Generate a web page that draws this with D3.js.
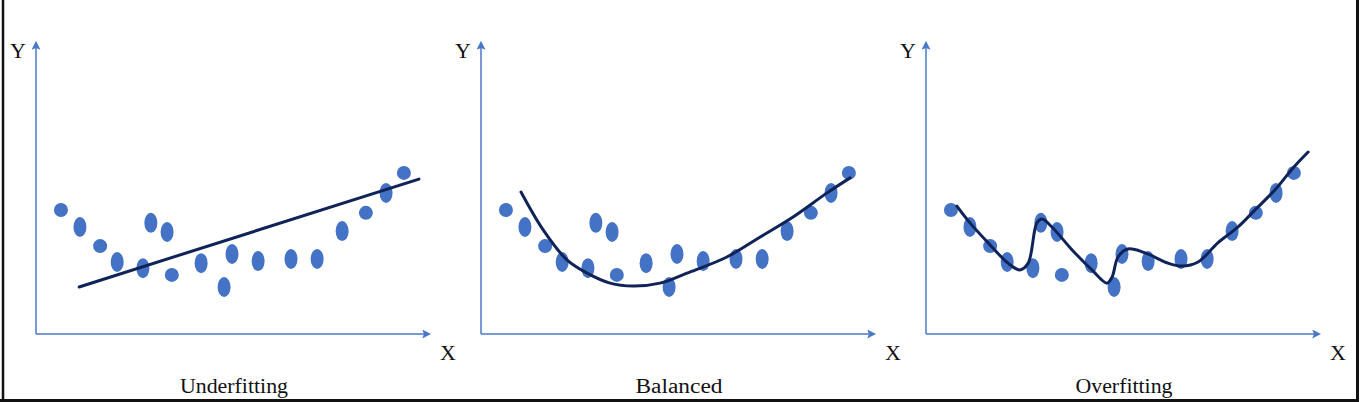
<!DOCTYPE html>
<html>
<head>
<meta charset="utf-8">
<script src="https://cdn.jsdelivr.net/npm/d3@7"></script>
<style>
  body { margin: 0; background: #fff; }
  svg { display: block; }
  text { font-family: "Liberation Serif", "Times New Roman", serif; fill: #111; }
</style>
</head>
<body>
<svg id="chart" width="1363" height="402"></svg>
<script>
// panel titles
var titles = ["Underfitting", "Balanced", "Overfitting"];
var titleWidths = [108, 87, 97];

// the same noisy sample is used in all three panels (x, y in 0..100 units)
var pointX = [6.3, 11.1, 16.2, 20.5, 27.0, 29.0, 33.1, 34.3, 41.7, 47.5, 49.5, 56.1, 64.4, 71.0, 77.3, 83.3, 88.4, 92.9];
var pointY = [42.2, 36.4, 29.9, 24.5, 22.4, 37.8, 34.7, 20.1, 24.1, 16.0, 27.2, 24.8, 25.5, 25.5, 35.0, 41.2, 48.0, 54.8];
// round dots vs. tall ellipses
var pointRound = [1, 0, 1, 0, 0, 0, 0, 1, 0, 0, 0, 0, 0, 0, 0, 1, 0, 1];

// fitted models
var underX = [10.9, 96.7];
var underY = [16.0, 52.7];

var balancedX = [10.1, 15.7, 21.7, 26.8, 32.6, 38.4, 45.2, 52.0, 62.1, 70.5, 78.8, 87.4, 93.2];
var balancedY = [48.3, 35.4, 25.2, 20.7, 17.3, 16.3, 17.3, 20.7, 26.2, 33.0, 39.8, 48.0, 53.1];

var overX = [7.8, 11.1, 16.2, 20.7, 23.7, 25.8, 28.0, 29.3, 31.8, 36.9, 41.9, 45.7, 47.0, 48.5, 51.0, 55.3, 61.1, 64.6, 68.7, 73.7, 78.8, 83.1, 88.1, 92.7, 96.5];
var overY = [43.5, 37.8, 30.3, 24.1, 21.8, 24.1, 37.8, 39.1, 36.4, 28.6, 21.8, 17.3, 19.4, 26.2, 28.9, 27.6, 24.1, 23.1, 24.5, 31.0, 36.4, 42.2, 49.0, 56.5, 61.9];

var fits = [
    {x: underX, y: underY, curve: d3.curveLinear},
    {x: balancedX, y: balancedY, curve: d3.curveCatmullRom},
    {x: overX, y: overY, curve: d3.curveCatmullRom}
];

var axisColor = "#4a78c8";
var dotColor = "#4472c4";
var fitColor = "#102358";

var originsX = [36, 481, 926];
var originY = 334;
var axisLen = 396;
var axisTop = 40;

var svg = d3.select("#chart");

// frame
svg.append("line").attr("x1", 3).attr("y1", 0).attr("x2", 3).attr("y2", 402)
    .attr("stroke", "#111").attr("stroke-width", 2.5);
svg.append("line").attr("x1", 1357.5).attr("y1", 0).attr("x2", 1357.5).attr("y2", 402)
    .attr("stroke", "#111").attr("stroke-width", 3);
svg.append("line").attr("x1", 0).attr("y1", 400.5).attr("x2", 1359).attr("y2", 400.5)
    .attr("stroke", "#111").attr("stroke-width", 3);

var defs = svg.append("defs");
defs.append("marker")
    .attr("id", "arrow")
    .attr("viewBox", "0 0 10 10")
    .attr("refX", 2).attr("refY", 5)
    .attr("markerWidth", 9).attr("markerHeight", 9)
    .attr("markerUnits", "userSpaceOnUse")
    .attr("orient", "auto")
    .append("path")
    .attr("d", "M0,0L10,5L0,10L2,5Z")
    .attr("fill", axisColor);

var x = d3.scaleLinear().domain([0, 100]).range([0, axisLen]);
var y = d3.scaleLinear().domain([0, 100]).range([0, -(originY - axisTop)]);

var points = d3.range(pointX.length).map(function(i) {
    return {x: pointX[i], y: pointY[i], round: pointRound[i]};
});

titles.forEach(function(title, p) {
    var g = svg.append("g")
        .attr("transform", "translate(" + originsX[p] + "," + originY + ")");

    // axes
    g.append("line")
        .attr("x1", 0).attr("y1", 0).attr("x2", 0).attr("y2", y(100) + 8)
        .attr("stroke", axisColor).attr("stroke-width", 1.5)
        .attr("marker-end", "url(#arrow)");
    g.append("line")
        .attr("x1", 0).attr("y1", 0).attr("x2", x(100) - 8).attr("y2", 0)
        .attr("stroke", axisColor).attr("stroke-width", 1.5)
        .attr("marker-end", "url(#arrow)");

    g.append("text").attr("x", -18).attr("y", y(100) + 18)
        .attr("text-anchor", "middle").style("font-size", "22px")
        .text("Y");
    g.append("text").attr("x", x(100) + 16).attr("y", 26)
        .attr("text-anchor", "middle").style("font-size", "22px")
        .text("X");
    g.append("text").attr("x", x(50)).attr("y", 59)
        .attr("text-anchor", "middle").style("font-size", "20px")
        .attr("textLength", titleWidths[p])
        .attr("lengthAdjust", "spacingAndGlyphs")
        .text(title);

    // data points
    g.selectAll("ellipse")
        .data(points)
        .enter()
        .append("ellipse")
        .attr("cx", function(d) { return x(d.x); })
        .attr("cy", function(d) { return y(d.y); })
        .attr("rx", function(d) { return d.round ? 7 : 6.5; })
        .attr("ry", function(d) { return d.round ? 7 : 10; })
        .attr("fill", dotColor);

    // fitted line
    var f = fits[p];
    var line = d3.line()
        .x(function(d) { return x(d[0]); })
        .y(function(d) { return y(d[1]); })
        .curve(f.curve);
    g.append("path")
        .attr("d", line(d3.zip(f.x, f.y)))
        .attr("fill", "none")
        .attr("stroke", fitColor)
        .attr("stroke-width", 3)
        .attr("stroke-linecap", "round");
});
</script>
</body>
</html>
